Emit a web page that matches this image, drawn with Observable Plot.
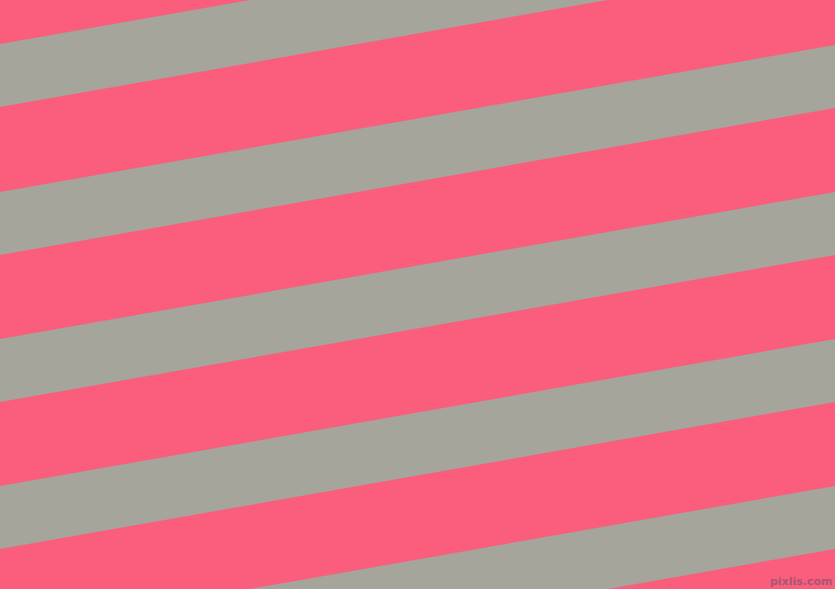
<!DOCTYPE html>
<html>
<head>
<meta charset="utf-8">
<script src="https://cdn.jsdelivr.net/npm/d3@7"></script>
<script src="https://cdn.jsdelivr.net/npm/@observablehq/plot@0.6"></script>
<style>
  html, body { margin: 0; padding: 0; background: #FA5E7C; overflow: hidden; }
  svg { display: block; }
</style>
</head>
<body>
<div id="chart"></div>
<script>
// Stripe data: y of each gray band's upper edge at the left side (x = 0)
const grayTopLeft = [-103, 44, 192, 339, 486, 633];
const bandThickness = 63;   // vertical thickness of a gray band
const riseAcross = 147;     // how much a band rises from left to right
const xEnds = [0, 835];
const pink = "#FA5E7C";
const gray = "#A5A59B";
const watermark = ["pixlis.com"];

const rows = [];
grayTopLeft.forEach((top, i) => {
  xEnds.forEach((x, j) => {
    const shift = j === 0 ? 0 : riseAcross;
    rows.push({band: i, x, y1: top - shift, y2: top - shift + bandThickness});
  });
});

const chart = Plot.plot({
  width: 835,
  height: 589,
  margin: 0,
  x: {domain: [0, 835], range: [0, 835], axis: null},
  y: {domain: [0, 589], range: [0, 589], axis: null},
  style: {background: pink, overflow: "hidden"},
  marks: [
    Plot.areaY(rows, {x: "x", y1: "y1", y2: "y2", z: "band", fill: gray, curve: "linear"}),
    Plot.text(watermark, {
      text: d => d,
      frameAnchor: "bottom-right",
      dx: -3, dy: -5,
      fontSize: 11,
      fontWeight: "bold",
      fontFamily: "DejaVu Sans",
      fill: "#A85670"
    })
  ]
});
document.getElementById("chart").appendChild(chart);
</script>
</body>
</html>
